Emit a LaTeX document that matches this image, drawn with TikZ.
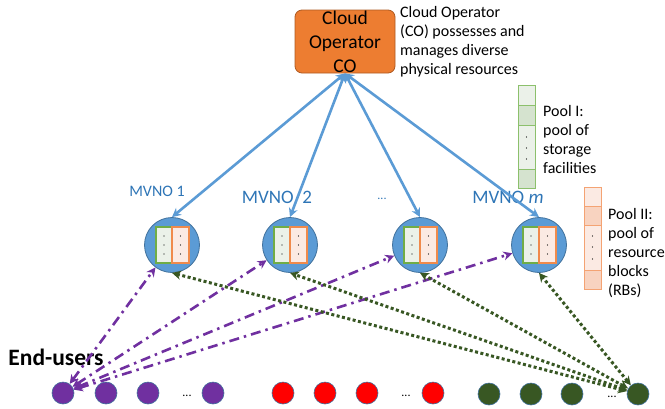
\documentclass[tikz,border=0pt]{standalone}
\usepackage{fontspec}
\setmainfont{Carlito}
\usetikzlibrary{arrows.meta,calc}

\definecolor{cofill}{HTML}{ED7D31}
\definecolor{coline}{HTML}{AE5A21}
\definecolor{mvnoblue}{HTML}{5B9BD5}
\definecolor{mvnoline}{HTML}{41719C}
\definecolor{labelblue}{HTML}{2E75B6}
\definecolor{poolgreen}{HTML}{70AD47}
\definecolor{poolgreenlt}{HTML}{8CC06C}
\definecolor{greenlight}{HTML}{EBF1E9}
\definecolor{greendark}{HTML}{D5E3CF}
\definecolor{poolorange}{HTML}{F08A4B}
\definecolor{poolorangelt}{HTML}{F4A373}
\definecolor{orangelight}{HTML}{FBEAE3}
\definecolor{orangedark}{HTML}{F8D3C0}
\definecolor{userpurple}{HTML}{7030A0}
\definecolor{userred}{HTML}{FF0000}
\definecolor{usergreen}{HTML}{385723}

\begin{document}
\begin{tikzpicture}[x=1pt,y=-1pt,
  cobox/.style={draw=coline, fill=cofill, rounded corners=7pt, minimum width=100pt,
    minimum height=63pt, inner sep=0pt, align=center,
    font=\fontsize{19.5}{24}\selectfont, line width=0.8pt},
  mvno/.style={circle, draw=mvnoline, fill=mvnoblue, minimum size=55pt,
    inner sep=0pt, line width=0.8pt},
  user/.style={circle, draw=mvnoline, minimum size=22pt, inner sep=0pt, line width=0.6pt},
  mlabel/.style={text=labelblue, inner sep=0pt},
  desc/.style={align=left, inner sep=0pt, anchor=north west,
    font=\fontsize{16}{19}\selectfont},
  gap/.style={inner sep=0pt, anchor=base, font=\fontsize{12}{12}\selectfont},
  link/.style={draw=mvnoblue, line width=2.6pt, {Stealth[length=9pt,width=9pt]}-{Stealth[length=9pt,width=9pt]}},
  access/.style={draw=userpurple, line width=2.6pt,
    dash pattern=on 10pt off 5pt on 2.5pt off 5pt,
    {Stealth[length=9pt,width=9pt]}-{Stealth[length=9pt,width=9pt]}},
  cache/.style={draw=usergreen, line width=3pt, dash pattern=on 3pt off 2.5pt,
    {Stealth[length=9pt,width=9pt]}-{Stealth[length=9pt,width=9pt]}},
  cellg/.style={draw=poolgreen, line width=1.2pt},
  cello/.style={draw=poolorange, line width=1.2pt},
  poolg/.style={draw=poolgreenlt, line width=1pt},
  poolo/.style={draw=poolorangelt, line width=1pt},
]
\useasboundingbox (0,0) rectangle (665,408);

% cloud operator
\node[cobox] (co) at (345,41.5) {Cloud\\Operator\\CO};
\node[desc] (codesc) at (400,6) {Cloud Operator\\(CO) possesses and\\manages diverse\\physical resources};

% MVNOs, each holding a storage slice and an RB slice
\foreach \n/\x in {m1/172, m2/290, m3/420, m4/539}{
  \node[mvno] (\n) at (\x,245) {};
  \draw[cellg, fill=greenlight] ($(\n)+(-16,-18)$) rectangle ($(\n)+(0,18)$);
  \draw[cello, fill=orangelight] ($(\n)+(0,-18)$) rectangle ($(\n)+(17,18)$);
  \foreach \dy in {-9,0,9}{
    \fill ($(\n)+(-8,\dy)$) circle (0.6pt);
    \fill ($(\n)+(8.5,\dy)$) circle (0.6pt);
  }
}
\node[mlabel, font=\fontsize{16}{16}\selectfont] (l1) at (157,191) {MVNO 1};
\node[mlabel, font=\fontsize{19}{19}\selectfont] (l2) at (277,197) {MVNO\ \ 2};
\node[mlabel, font=\fontsize{12}{12}\selectfont, anchor=base] (l3) at (382,199) {...};
\node[mlabel, font=\fontsize{19}{19}\selectfont] (l4) at (508,197) {MVNO \textit{m}};

% CO to MVNO links
\foreach \n in {m1,m2,m3,m4}
  \draw[link] (co.south) -- (\n.north);

% pool I: storage facilities
\foreach \a/\b/\c in {85/105/greenlight, 105/125/greendark, 125/169/greenlight, 169/188/greendark}
  \draw[poolg, fill=\c] (518,\a) rectangle (535,\b);
\foreach \y in {137,148,159} \fill (526.5,\y) circle (0.6pt);
\node[desc] (pool1) at (543,105) {Pool I:\\pool of\\storage\\facilities};

% pool II: resource blocks
\foreach \a/\b/\c in {187/206/orangelight, 206/225/orangedark, 225/270/orangelight, 270/289/orangedark}
  \draw[poolo, fill=\c] (584,\a) rectangle (601,\b);
\foreach \y in {236,247,259} \fill (592.5,\y) circle (0.6pt);
\node[desc] (pool2) at (608,208) {Pool II:\\pool of\\resource\\blocks\\(RBs)};

% end-users
\node[font=\fontsize{23.5}{23.5}\selectfont\bfseries, inner sep=0pt] (eu) at (56,357) {End-users};
\foreach \n/\x in {u1/63, u2/106, u3/148, u4/213}
  \node[user, fill=userpurple] (\n) at (\x,393) {};
\foreach \n/\x in {r1/283, r2/325, r3/367, r4/433}
  \node[user, fill=userred] (\n) at (\x,393) {};
\foreach \n/\x in {g1/489, g2/531, g3/572, g4/638}
  \node[user, fill=usergreen] (\n) at (\x,394) {};
\node[gap] (d1) at (187,396) {...};
\node[gap] (d2) at (406,396) {...};
\node[gap] (d3) at (612,397) {...};

% access links and caching links
\foreach \n in {m1,m2,m3,m4}
  \draw[access] (u1) -- (\n);
\foreach \n in {m1,m2,m3,m4}
  \draw[cache] (g4) -- (\n.south);
\end{tikzpicture}
\end{document}
